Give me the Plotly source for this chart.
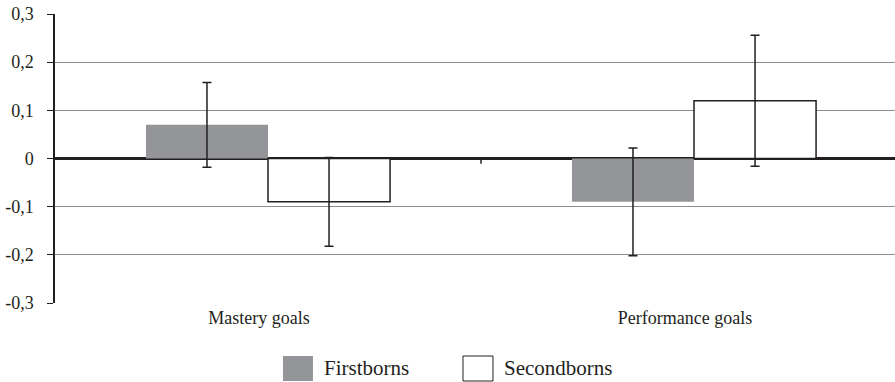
import plotly.graph_objects as go

categories = ["Mastery goals", "Performance goals"]
series_names = ["Firstborns", "Secondborns"]
firstborns = [0.07, -0.09]
firstborns_err = [0.088, 0.112]
secondborns = [-0.09, 0.12]
secondborns_err = [0.092, 0.136]
y_tickvals = [-0.3, -0.2, -0.1, 0, 0.1, 0.2, 0.3]
y_ticktext = ["-0,3", "-0,2", "-0,1", "0", "0,1", "0,2", "0,3"]

INK = "#231f20"
GRAY = "#939598"
FONT = "Liberation Serif, Times New Roman, serif"

fig = go.Figure()
fig.add_trace(go.Bar(
    name=series_names[0], x=categories, y=firstborns,
    marker=dict(color=GRAY, line=dict(width=0)),
    error_y=dict(type="data", array=firstborns_err, visible=True,
                 color=INK, thickness=1.5, width=4.5),
    showlegend=False,
))
fig.add_trace(go.Bar(
    name=series_names[1], x=categories, y=secondborns,
    marker=dict(color="white", line=dict(color=INK, width=1.5)),
    error_y=dict(type="data", array=secondborns_err, visible=True,
                 color=INK, thickness=1.5, width=4.5),
    showlegend=False,
))

# category boundary tick on zero line
fig.add_shape(type="line", xref="x", yref="y", x0=0.5, x1=0.5, y0=0, y1=-0.011,
              line=dict(color=INK, width=1.5))

# manual legend (large swatches as in reference)
legend_items = [
    (series_names[0], GRAY, GRAY, 0, 0.2714, 0.3071, 0.3179),
    (series_names[1], "white", INK, 1, 0.4857, 0.5214, 0.5321),
]
for name, fill, edge, lw, x0, x1, xt in legend_items:
    fig.add_shape(type="rect", xref="paper", yref="paper",
                  x0=x0, x1=x1, y0=-0.2699, y1=-0.1834,
                  fillcolor=fill, line=dict(color=edge, width=lw))
    fig.add_annotation(xref="paper", yref="paper", x=xt, y=-0.2266,
                       text=name, showarrow=False, xanchor="left", yanchor="middle",
                       font=dict(family=FONT, size=21, color=INK))

fig.update_layout(
    width=895, height=382,
    margin=dict(l=55, r=0, t=14, b=79, autoexpand=False),
    paper_bgcolor="white", plot_bgcolor="white",
    barmode="group", bargap=0.427, bargroupgap=0,
    font=dict(family=FONT, color=INK),
    showlegend=False,
    xaxis=dict(
        type="category", range=[-0.5, 1.4718], automargin=False,
        showline=False, showgrid=False, zeroline=False, ticks="",
        tickfont=dict(family=FONT, size=18, color=INK),
        ticklabelshift=-9, ticklabelstandoff=2,
    ),
    yaxis=dict(
        range=[-0.3, 0.3], tickvals=y_tickvals, ticktext=y_ticktext,
        automargin=False,
        showline=True, linecolor=INK, linewidth=1.5,
        ticks="outside", ticklen=6, tickcolor=INK, tickwidth=1,
        showgrid=True, gridcolor="#8c8c8c", gridwidth=1,
        zeroline=True, zerolinecolor=INK, zerolinewidth=2.5,
        tickfont=dict(family=FONT, size=18, color=INK),
        ticklabelstandoff=10,
    ),
)

fig.write_html("out.html", config={"displayModeBar": False},
               post_script="document.body.style.margin='0';document.body.style.overflow='hidden';")
